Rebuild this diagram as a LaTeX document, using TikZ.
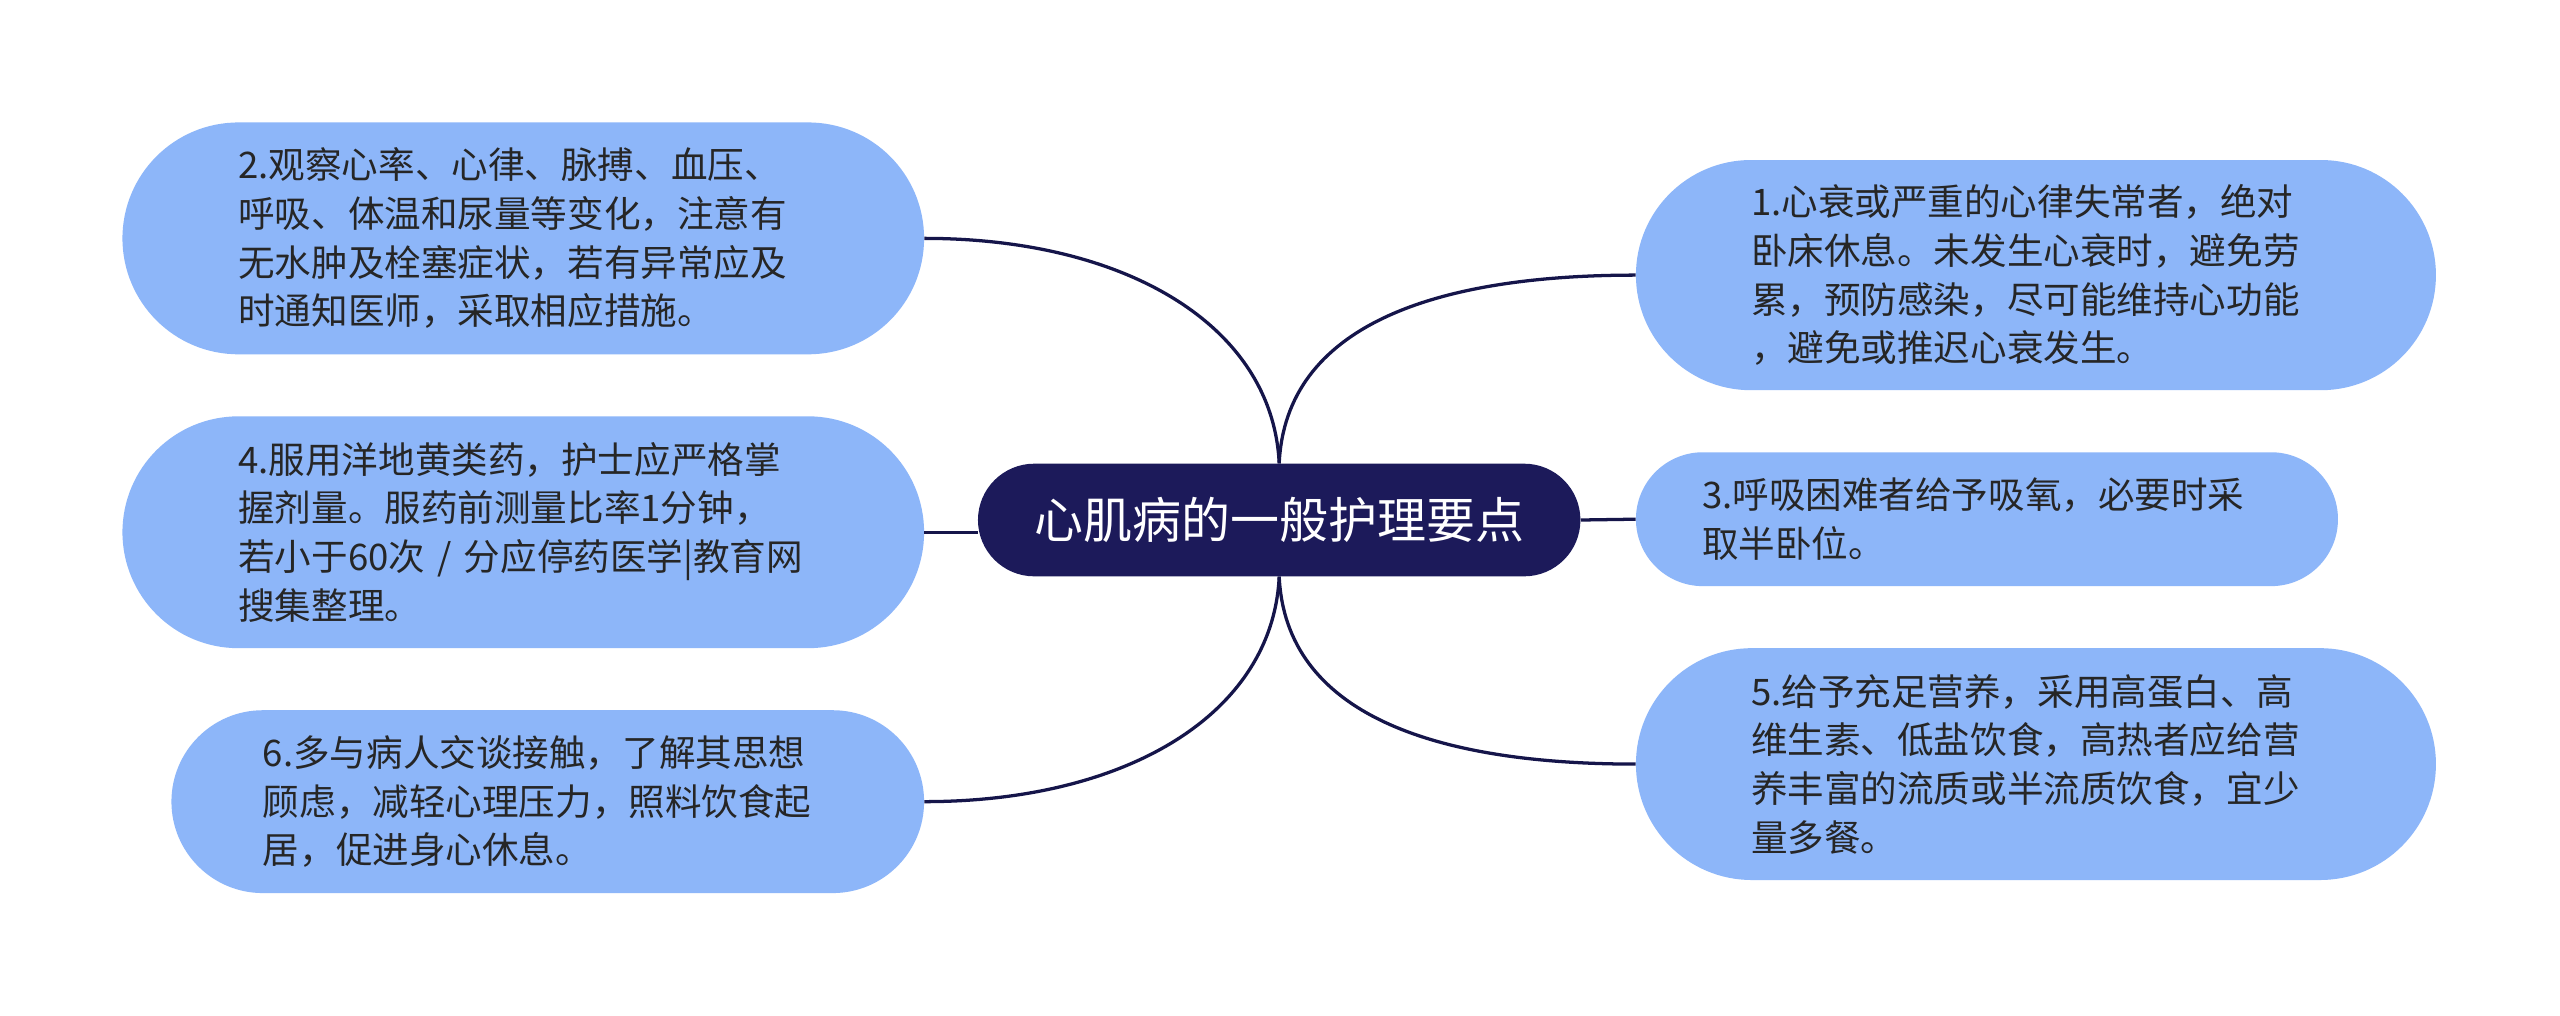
\documentclass[tikz,border=0pt]{standalone}
\usepackage{fontspec}
\usepackage{tikz}
\newfontfamily\cjk{Noto Sans CJK SC}
\definecolor{ideablue}{HTML}{8DB6F9}
\definecolor{hubnavy}{HTML}{1C1A5A}
\definecolor{linknavy}{HTML}{15154A}

\begin{document}
\begin{tikzpicture}[x=1pt,y=1pt,
  idea/.style={fill=ideablue,text=black!85,align=left,text width=349pt,
    font=\cjk\fontsize{22.4}{29.8}\selectfont,inner sep=0pt},
  hub/.style={fill=hubnavy,text=white,rounded corners=34.5pt,
    minimum width=369pt,minimum height=69pt,inner sep=0pt,
    font=\cjk\fontsize{30}{36}\selectfont},
  link/.style={draw=linknavy,line width=2pt}]
\fill [white] (0,0) rectangle (1568,-621.7);
\useasboundingbox (0,0) rectangle (1568,-621.7);

\node [hub] (hub) at (783.5,-318.5) {心肌病的一般护理要点};

% left side
\node [idea,minimum width=491pt,minimum height=142pt,rounded corners=71pt]
  (n2) at (320.5,-146) {2.观察心率、心律、脉搏、血压、\\呼吸、体温和尿量等变化，注意有\\无水肿及栓塞症状，若有异常应及\\时通知医师，采取相应措施。};
\node [idea,minimum width=491pt,minimum height=142pt,rounded corners=71pt]
  (n4) at (320.5,-326) {4.服用洋地黄类药，护士应严格掌\\握剂量。服药前测量比率1分钟，\\若小于60次 / 分应停药医学|教育网\\搜集整理。};
\node [idea,minimum width=461pt,minimum height=112pt,rounded corners=56pt]
  (n6) at (335.5,-491) {6.多与病人交谈接触，了解其思想\\顾虑，减轻心理压力，照料饮食起\\居，促进身心休息。};

% right side
\node [idea,minimum width=490pt,minimum height=141pt,rounded corners=70.5pt]
  (n1) at (1247,-168.5) {1.心衰或严重的心律失常者，绝对\\卧床休息。未发生心衰时，避免劳\\累，预防感染，尽可能维持心功能\\，避免或推迟心衰发生。};
\node [idea,minimum width=430pt,minimum height=82pt,rounded corners=41pt]
  (n3) at (1217,-318) {3.呼吸困难者给予吸氧，必要时采\\取半卧位。};
\node [idea,minimum width=490pt,minimum height=142pt,rounded corners=71pt]
  (n5) at (1247,-468) {5.给予充足营养，采用高蛋白、高\\维生素、低盐饮食，高热者应给营\\养丰富的流质或半流质饮食，宜少\\量多餐。};

\draw [link] (n2.east) .. controls +(124,0) and +(-4,84) .. (hub.north);
\draw [link] (n4.east) -- (n4.east -| hub.west);
\draw [link] (n6.east) .. controls +(124,0) and +(-4,-84) .. (hub.south);
\draw [link] (n1.west) .. controls +(-124,0) and +(4,84) .. (hub.north);
\draw [link] (hub.east) -- (n3.west);
\draw [link] (n5.west) .. controls +(-124,0) and +(4,-84) .. (hub.south);
\end{tikzpicture}
\end{document}
